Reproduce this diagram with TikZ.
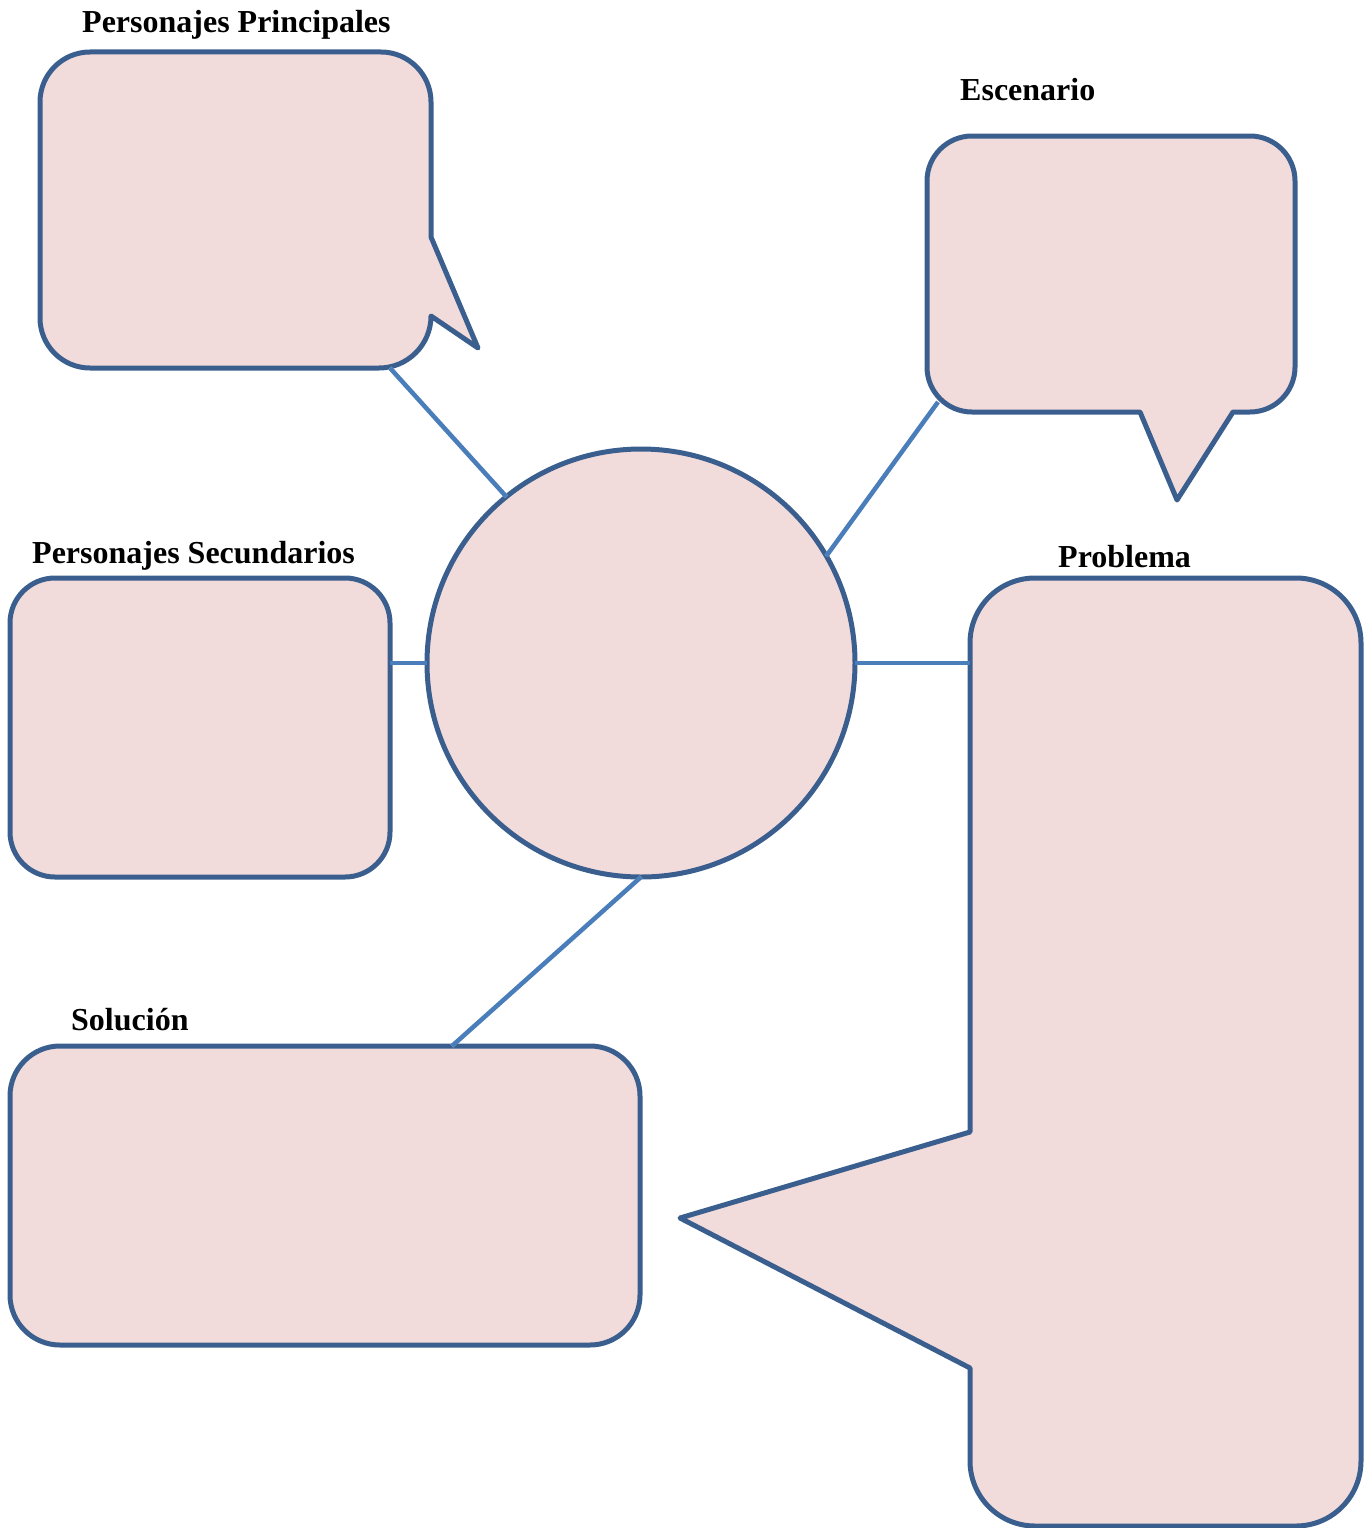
\documentclass[tikz,border=0pt]{standalone}
\usepackage{fontspec}
\setmainfont{Liberation Serif}
\definecolor{outl}{HTML}{3A5F8E}
\definecolor{conn}{HTML}{4A7EBB}
\definecolor{fillc}{HTML}{F2DCDB}
\begin{document}
\begin{tikzpicture}[x=1pt,y=1pt,
  shapestyle/.style={draw=outl,fill=fillc,line width=5pt,line join=round},
  boxnode/.style={shapestyle,rectangle,inner sep=0pt,outer sep=0pt},
  conline/.style={draw=conn,line width=4.5pt},
  conshadow/.style={draw=black!12,line width=4pt,shift={(1pt,-3pt)}},
  title/.style={anchor=base west,font=\fontsize{32}{36}\selectfont\bfseries,inner sep=0pt}]
\useasboundingbox (0,0) rectangle (1369,-1528);

\node[shapestyle,circle,minimum size=428pt,inner sep=0pt,outer sep=0pt] (hub) at (641,-663) {};
\coordinate (ppEnd) at (390,-368);
\coordinate (escEnd) at (938,-402);
\coordinate (probEnd) at (970,-663);
\coordinate (solEnd) at (452,-1046);

% Personajes Principales callout
\draw[shapestyle] (90,-52) -- (381,-52) arc(90:0:50) -- (431,-237) -- (478,-348) -- (431,-316)
  arc(0:-90:52) -- (90,-368) arc(270:180:50) -- (40,-102) arc(180:90:50) -- cycle;
\node[title] (tPP) at (82,-33) {Personajes Principales};

% Escenario callout
\draw[shapestyle] (972,-136) -- (1250,-136) arc(90:0:45) -- (1295,-367) arc(0:-90:45)
  -- (1233,-412) -- (1177,-500) -- (1140,-412) -- (972,-412) arc(270:180:45) -- (927,-181) arc(180:90:45) -- cycle;
\node[title] (tEsc) at (960,-100) {Escenario};

% Problema callout
\draw[shapestyle] (1035,-578) -- (1296,-578) arc(90:0:65) -- (1361,-1461) arc(0:-90:65)
  -- (1035,-1526) arc(270:180:65) -- (970,-1368) -- (680,-1218) -- (970,-1132) -- (970,-643) arc(180:90:65) -- cycle;
\node[title] (tProb) at (1058,-567) {Problema};

% Personajes Secundarios box
\node[boxnode,rounded corners=45pt,minimum width=380pt,minimum height=299pt] (ps) at (200,-727.5) {};
\node[title] (tPS) at (32,-563) {Personajes Secundarios};

% Solucion box
\node[boxnode,rounded corners=50pt,minimum width=630pt,minimum height=299pt] (sol) at (325,-1195.5) {};
\node[title] (tSol) at (71,-1030) {Solución};

% connector shadows
\draw[conshadow] (ppEnd) -- (hub.129.6);
\draw[conshadow] (escEnd) -- (hub.30.4);
\draw[conshadow] (ps.east |- hub.west) -- (hub.west);
\draw[conshadow] (hub.east) -- (probEnd);
\draw[conshadow] (hub.south) -- (solEnd);
% connectors
\draw[conline] (ppEnd) -- (hub.129.6);
\draw[conline] (escEnd) -- (hub.30.4);
\draw[conline] (ps.east |- hub.west) -- (hub.west);
\draw[conline] (hub.east) -- (probEnd);
\draw[conline] (hub.south) -- (solEnd);
\end{tikzpicture}
\end{document}
